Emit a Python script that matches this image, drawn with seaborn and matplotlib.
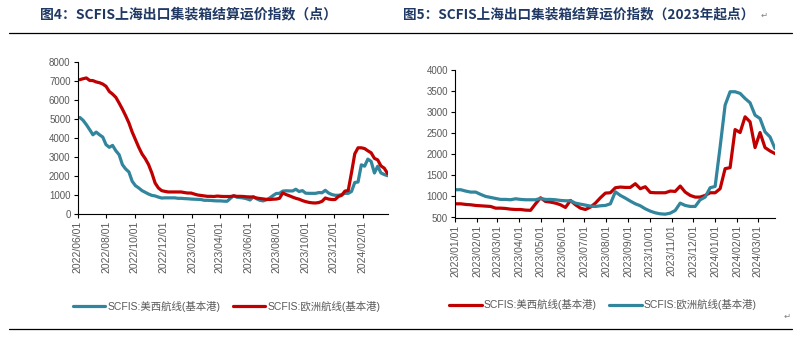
import pandas as pd
import matplotlib
matplotlib.use('Agg')
import matplotlib.pyplot as plt
import matplotlib.dates as mdates
from matplotlib.lines import Line2D
import seaborn as sns

# weekly SCFIS readings (Mondays)
weeks = pd.date_range('2022-06-06', periods=95, freq='7D')

us_west_2022 = [5080, 4930, 4700, 4440, 4170, 4310, 4170, 4050, 3650, 3510,
                3610, 3330, 3120, 2600, 2370, 2210, 1720, 1490, 1370, 1230,
                1140, 1050, 980, 950, 890, 840, 850, 850, 850, 850]
us_west_2023 = [825, 825, 810, 802, 786, 778, 770, 762, 722, 722,
                714, 698, 690, 690, 675, 670, 825, 968, 881, 865,
                841, 802, 738, 905, 802, 722, 690, 746, 841, 968,
                1079, 1087, 1206, 1222, 1214, 1214, 1302, 1183, 1230, 1095,
                1087, 1087, 1087, 1127, 1119, 1246, 1103, 1024, 984, 984,
                1024, 1087, 1087, 1183, 1659, 1683, 2587, 2516, 2889, 2770,
                2159, 2516, 2159, 2079, 2016]

europe_2022 = [7070, 7120, 7160, 7030, 7020, 6950, 6910, 6840, 6720, 6450,
               6310, 6140, 5840, 5520, 5170, 4790, 4310, 3910, 3510, 3160,
               2910, 2600, 2160, 1630, 1370, 1230, 1190, 1160, 1160, 1160]
europe_2023 = [1159, 1159, 1127, 1103, 1103, 1048, 1000, 976, 952, 929,
               929, 921, 944, 929, 921, 921, 921, 952, 929, 929,
               921, 905, 897, 897, 841, 817, 794, 770, 762, 778,
               786, 825, 1110, 1024, 960, 889, 825, 778, 706, 651,
               611, 587, 579, 603, 667, 841, 786, 762, 762, 921,
               984, 1206, 1238, 2175, 3167, 3484, 3484, 3445, 3325, 3222,
               2929, 2849, 2532, 2413, 2135]

label_us = 'SCFIS:美西航线(基本港)'
label_eu = 'SCFIS:欧洲航线(基本港)'
title_left = '图4：SCFIS上海出口集装箱结算运价指数（点）'
title_right = '图5：SCFIS上海出口集装箱结算运价指数（2023年起点）'

TEAL = '#31859C'
RED = '#C00000'
GRAY = '#595959'

df = pd.DataFrame({'date': weeks,
                   'us': us_west_2022 + us_west_2023,
                   'eu': europe_2022 + europe_2023})
df23 = df[df['date'] >= '2023-01-01']

sns.set_theme(style='white')
plt.rcParams['font.family'] = ['Liberation Sans', 'Noto Sans CJK SC', 'DejaVu Sans']

fig = plt.figure(figsize=(7.97, 3.38), dpi=100)
ax1 = fig.add_axes([77.5 / 797, 1 - 214 / 338, 310 / 797, 152 / 338])
ax2 = fig.add_axes([455 / 797, 1 - 217.5 / 338, 320 / 797, 147.5 / 338])

lw = 2.3
sns.lineplot(data=df, x='date', y='us', ax=ax1, color=TEAL, linewidth=lw, label=label_us)
sns.lineplot(data=df, x='date', y='eu', ax=ax1, color=RED, linewidth=lw, label=label_eu)
sns.lineplot(data=df23, x='date', y='us', ax=ax2, color=RED, linewidth=lw, label=label_us)
sns.lineplot(data=df23, x='date', y='eu', ax=ax2, color=TEAL, linewidth=lw, label=label_eu)


def style_axis(ax):
    sns.despine(ax=ax)
    for side in ['left', 'bottom']:
        ax.spines[side].set_color('black')
        ax.spines[side].set_linewidth(0.8)
    ax.tick_params(axis='both', which='major', bottom=True, left=True, direction='out',
                   length=3, width=0.8, color='black', labelcolor=GRAY, pad=2)
    ax.tick_params(axis='y', labelsize=7)
    ax.tick_params(axis='x', labelsize=7.5, labelrotation=90)
    ax.xaxis.set_major_formatter(mdates.DateFormatter('%Y/%m/%d'))
    ax.set_xlabel('')
    ax.set_ylabel('')
    ax.grid(False)


ax1.set_xlim(pd.Timestamp('2022-06-01'), df['date'].iloc[-1])
ax1.set_ylim(0, 8000)
ax1.set_yticks(range(0, 8001, 1000))
ax1.xaxis.set_major_locator(mdates.MonthLocator(bymonth=[2, 4, 6, 8, 10, 12]))
style_axis(ax1)

ax2.set_xlim(pd.Timestamp('2023-01-01'), df['date'].iloc[-1])
ax2.set_ylim(500, 4000)
ax2.set_yticks(range(500, 4001, 500))
ax2.xaxis.set_major_locator(mdates.MonthLocator())
style_axis(ax2)

# legends below each panel
for ax, cx, cy in [(ax1, 226.5 / 797, 1 - 306 / 338), (ax2, 603 / 797, 1 - 305 / 338)]:
    leg = ax.legend(loc='center', bbox_to_anchor=(cx, cy), bbox_transform=fig.transFigure,
                    ncol=2, frameon=False, fontsize=7.5, handlelength=3.1,
                    handletextpad=0.2, columnspacing=1.2, borderpad=0)
    for t in leg.get_texts():
        t.set_color(GRAY)

# titles
fig.text(40 / 797, 1 - 14 / 338, title_left, ha='left', va='center', fontsize=10,
         fontweight='bold', color='#1F3864', family=['Noto Sans CJK SC', 'DejaVu Sans'])
fig.text(403 / 797, 1 - 14 / 338, title_right, ha='left', va='center', fontsize=9.8,
         fontweight='bold', color='#1F3864', family=['Noto Sans CJK SC', 'DejaVu Sans'])
fig.text(761 / 797, 1 - 15 / 338, '↵', ha='left', va='center', fontsize=6,
         color='#808080', family=['DejaVu Sans'])
fig.text(784 / 797, 1 - 316 / 338, '↵', ha='left', va='center', fontsize=6,
         color='#808080', family=['DejaVu Sans'])

# rules above and below the figure block
fig.add_artist(Line2D([9 / 797, 792 / 797], [1 - 33 / 338, 1 - 33 / 338],
                      transform=fig.transFigure, color='black', linewidth=0.9))
fig.add_artist(Line2D([9 / 797, 792 / 797], [1 - 329 / 338, 1 - 329 / 338],
                      transform=fig.transFigure, color='black', linewidth=0.9))

fig.savefig('out.png', dpi=100)
